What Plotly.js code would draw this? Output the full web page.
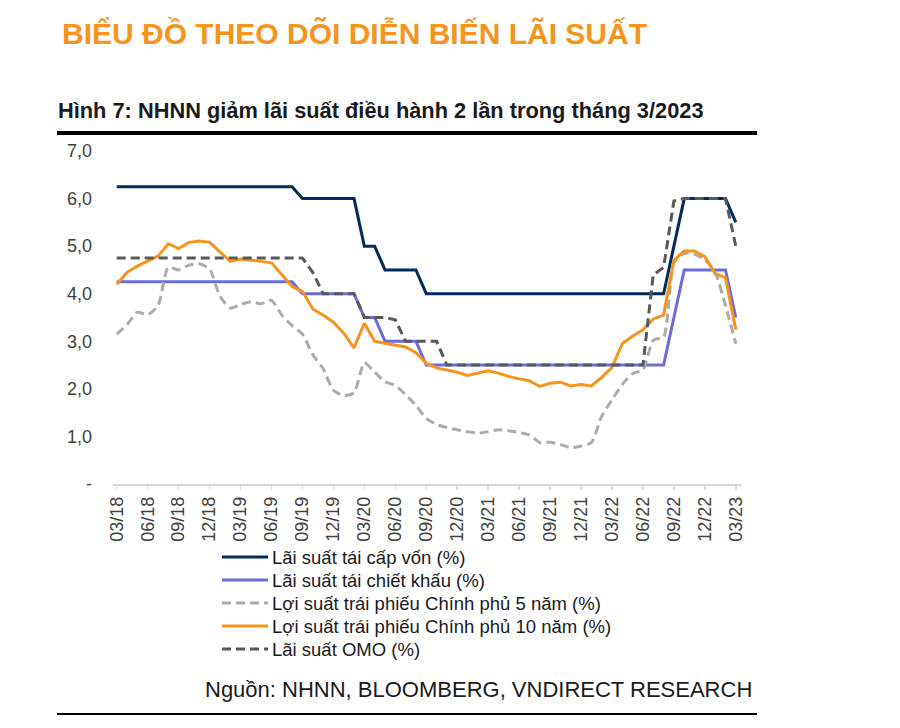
<!DOCTYPE html>
<html>
<head>
<meta charset="utf-8">
<script src="https://cdn.plot.ly/plotly-3.0.1.min.js"></script>
<style>
html,body{margin:0;padding:0;background:#fff;}
#chart{width:900px;height:728px;}
</style>
</head>
<body>
<div id="chart"></div>
<script>
// Months 03/2018 .. 03/2023
const months = [
 "03/18","04/18","05/18","06/18","07/18","08/18","09/18","10/18","11/18","12/18",
 "01/19","02/19","03/19","04/19","05/19","06/19","07/19","08/19","09/19","10/19","11/19","12/19",
 "01/20","02/20","03/20","04/20","05/20","06/20","07/20","08/20","09/20","10/20","11/20","12/20",
 "01/21","02/21","03/21","04/21","05/21","06/21","07/21","08/21","09/21","10/21","11/21","12/21",
 "01/22","02/22","03/22","04/22","05/22","06/22","07/22","08/22","09/22","10/22","11/22","12/22",
 "01/23","02/23","03/23"
];
const xTickLabels = ["03/18","06/18","09/18","12/18","03/19","06/19","09/19","12/19","03/20","06/20","09/20","12/20","03/21","06/21","09/21","12/21","03/22","06/22","09/22","12/22","03/23"];
const yTickValues = [0,1,2,3,4,5,6,7];
const yTickLabels = ["-","1,0","2,0","3,0","4,0","5,0","6,0","7,0"];

const refinancing = [
 6.25,6.25,6.25,6.25,6.25,6.25,6.25,6.25,6.25,6.25,
 6.25,6.25,6.25,6.25,6.25,6.25,6.25,6.25,6.0,6.0,6.0,6.0,
 6.0,6.0,5.0,5.0,4.5,4.5,4.5,4.5,4.0,4.0,4.0,4.0,
 4.0,4.0,4.0,4.0,4.0,4.0,4.0,4.0,4.0,4.0,4.0,4.0,
 4.0,4.0,4.0,4.0,4.0,4.0,4.0,4.0,5.0,6.0,6.0,6.0,
 6.0,6.0,5.5
];
const discount = [
 4.25,4.25,4.25,4.25,4.25,4.25,4.25,4.25,4.25,4.25,
 4.25,4.25,4.25,4.25,4.25,4.25,4.25,4.25,4.0,4.0,4.0,4.0,
 4.0,4.0,3.5,3.5,3.0,3.0,3.0,3.0,2.5,2.5,2.5,2.5,
 2.5,2.5,2.5,2.5,2.5,2.5,2.5,2.5,2.5,2.5,2.5,2.5,
 2.5,2.5,2.5,2.5,2.5,2.5,2.5,2.5,3.5,4.5,4.5,4.5,
 4.5,4.5,3.5
];
const gov5y = [
 3.15,3.35,3.61,3.56,3.75,4.55,4.50,4.60,4.63,4.52,
 3.95,3.70,3.77,3.83,3.79,3.86,3.55,3.33,3.15,2.72,2.43,1.97,
 1.86,1.92,2.55,2.35,2.15,2.07,1.88,1.65,1.38,1.25,1.19,1.14,
 1.10,1.07,1.10,1.14,1.12,1.08,1.03,0.87,0.88,0.83,0.76,0.80,
 0.87,1.42,1.77,2.09,2.32,2.40,3.02,3.09,4.65,4.85,4.83,4.72,
 4.45,3.75,2.95
];
const gov10y = [
 4.20,4.45,4.58,4.68,4.79,5.05,4.95,5.08,5.11,5.08,
 4.87,4.68,4.73,4.71,4.68,4.65,4.40,4.15,4.05,3.68,3.55,3.40,
 3.17,2.86,3.38,3.00,2.96,2.92,2.88,2.76,2.54,2.44,2.40,2.35,
 2.28,2.33,2.38,2.33,2.26,2.21,2.17,2.05,2.12,2.14,2.06,2.09,
 2.06,2.24,2.45,2.95,3.11,3.24,3.47,3.55,4.70,4.90,4.90,4.78,
 4.42,4.34,3.24
];
const omo = [
 4.75,4.75,4.75,4.75,4.75,4.75,4.75,4.75,4.75,4.75,
 4.75,4.75,4.75,4.75,4.75,4.75,4.75,4.75,4.75,4.45,4.0,4.0,
 4.0,4.0,3.5,3.5,3.5,3.45,3.0,3.0,3.0,3.0,2.5,2.5,
 2.5,2.5,2.5,2.5,2.5,2.5,2.5,2.5,2.5,2.5,2.5,2.5,
 2.5,2.5,2.5,2.5,2.5,2.5,4.4,4.55,5.95,6.0,6.0,6.0,
 6.0,6.0,5.0
];

const seriesNames = [
 "Lãi suất tái cấp vốn (%)",
 "Lãi suất tái chiết khấu (%)",
 "Lợi suất trái phiếu Chính phủ 5 năm (%)",
 "Lợi suất trái phiếu Chính phủ 10 năm (%)",
 "Lãi suất OMO (%)"
];
const seriesColors = ["#002B5C", "#6B6BDB", "#ABABAB", "#F7941D", "#595959"];
const seriesDash = ["solid", "solid", "9px,5px", "solid", "9px,5px"];
const seriesValues = [refinancing, discount, gov5y, gov10y, omo];

const FONT = "Liberation Sans, Arial, sans-serif";
const traces = seriesValues.map((vals, k) => ({
 x: months, y: vals, name: seriesNames[k], mode: "lines", showlegend: false,
 line: Object.assign({color: seriesColors[k], width: 3, dash: seriesDash[k]},
   k === 2 ? {shape: "spline", smoothing: 0.6} : {})
}));

const L = 113, R = 900 - 742, T = 151, B = 728 - 484;
const pw = 900 - L - R, ph = 728 - T - B;
const px = v => (v - L) / pw;
const py = v => (728 - B - v) / ph;

const shapes = [
 {type: "line", xref: "paper", yref: "paper", x0: px(57), x1: px(757), y0: py(133), y1: py(133), line: {color: "#000", width: 4}},
 {type: "line", xref: "paper", yref: "paper", x0: px(57), x1: px(757), y0: py(714), y1: py(714), line: {color: "#000", width: 2}}
];
const annotations = [
 {text: "<b>Hình 7: NHNN giảm lãi suất điều hành 2 lần trong tháng 3/2023</b>", xref: "paper", yref: "paper",
  x: px(56), y: py(110), xanchor: "left", yanchor: "middle", showarrow: false,
  font: {family: FONT, size: 21.8, color: "#1a1a1a"}},
 {text: "Nguồn: NHNN, BLOOMBERG, VNDIRECT RESEARCH", xref: "paper", yref: "paper",
  x: px(754), y: py(689), xanchor: "right", yanchor: "middle", showarrow: false,
  font: {family: FONT, size: 22, color: "#1a1a1a"}}
];
// legend (keys + labels)
const legendRows = [557, 580, 603, 626, 649];
seriesNames.forEach((nm, k) => {
 shapes.push({type: "line", xref: "paper", yref: "paper", x0: px(222), x1: px(268), y0: py(legendRows[k]), y1: py(legendRows[k]),
   line: {color: seriesColors[k], width: 3, dash: seriesDash[k]}});
 annotations.push({text: nm, xref: "paper", yref: "paper", x: px(270), y: py(legendRows[k]), xanchor: "left", yanchor: "middle",
   showarrow: false, font: {family: FONT, size: 18.5, color: "#1a1a1a"}});
});

const layout = {
 width: 900, height: 728,
 paper_bgcolor: "#ffffff", plot_bgcolor: "#ffffff",
 margin: {l: L, r: R, t: T, b: B, pad: 0},
 font: {family: FONT, color: "#262626"},
 title: {
  text: "<b>BIỂU ĐỒ THEO DÕI DIỄN BIẾN LÃI SUẤT</b>",
  font: {family: "Liberation Sans Narrow, Arial Narrow, Liberation Sans, sans-serif", size: 30, color: "#F7941D"},
  xref: "container", yref: "container", x: 62/900, xanchor: "left", y: 1 - 33/728, yanchor: "middle"
 },
 showlegend: false,
 xaxis: {
  type: "category", range: [-0.36, 60.6],
  tickmode: "array", tickvals: xTickLabels, ticktext: xTickLabels,
  tickangle: -90, tickfont: {family: FONT, size: 18, color: "#404040"},
  showgrid: false, zeroline: false, showline: true, linecolor: "#D9D9D9", linewidth: 1.5,
  ticks: "outside", ticklen: 4, tickcolor: "#D9D9D9", tickwidth: 1.5
 },
 yaxis: {
  range: [0, 7], tickmode: "array", tickvals: yTickValues, ticktext: yTickLabels,
  tickfont: {family: FONT, size: 18, color: "#404040"},
  showgrid: false, zeroline: false, showline: false, ticks: "", ticklabelstandoff: 20
 },
 shapes: shapes,
 annotations: annotations
};

Plotly.newPlot("chart", traces, layout, {staticPlot: true, displayModeBar: false});
</script>
</body>
</html>
